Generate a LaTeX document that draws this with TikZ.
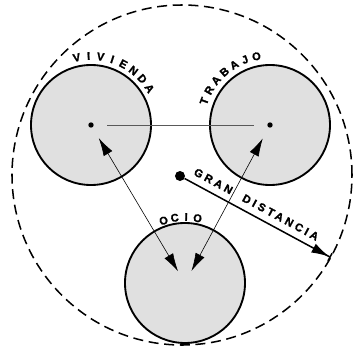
\documentclass[tikz,border=0pt]{standalone}
\usepackage{fontspec}
\setsansfont{Liberation Sans}[BoldFeatures={FakeBold=1.5}]
\usetikzlibrary{arrows.meta}

\begin{document}
\begin{tikzpicture}[
  x=0.03cm, y=0.03cm,
  font=\sffamily\bfseries\fontsize{9.5}{11}\selectfont,
  zone/.style={circle, draw, line width=1.6pt, fill=black!12, minimum size=3.6cm, inner sep=0pt},
  ring/.style={circle, draw, dash pattern=on 3mm off 1.7mm, line width=1.3pt, minimum size=10.2cm, inner sep=0pt},
  dot/.style={circle, fill, inner sep=0pt, minimum size=1.6mm},
  hub/.style={circle, fill, inner sep=0pt, minimum size=3mm},
  letter/.style={inner sep=0pt},
  word/.style={sloped, above=2mm, inner sep=0pt, font=\sffamily\bfseries\fontsize{9.5}{11}\selectfont\addfontfeature{LetterSpace=28}},
  link/.style={{Latex[length=5.4mm, width=3mm]}-{Latex[length=5.4mm, width=3mm]}, line width=0.5pt},
  gran/.style={-{Latex[length=5.4mm, width=3mm] Bar[width=2.6mm]}, line width=1.3pt}
]
\useasboundingbox (0,0) rectangle (353,352);
\node[ring] (out) at (182,177) {};
\node[zone] (viv) at (91,227) {};
\node[zone] (trab) at (270,227) {};
\node[zone] (ocio) at (185,69) {};
\node[dot] (vivc) at (viv.center) {};
\node[dot] (trabc) at (trab.center) {};
\node[hub] (hub) at (180,176) {};
\coordinate (gend) at ([shift={(-29:170)}]out.center);
% curved labels
\foreach \l [count=\i] in {V,I,V,I,E,N,D,A} {
  \pgfmathsetmacro\a{102-(\i-1)*10}
  \node[letter, rotate=\a-90] (v\i) at ([shift={(\a:69)}]viv.center) {\l};
}
\foreach \l [count=\i] in {T,R,A,B,A,J,O} {
  \pgfmathsetmacro\a{160-(\i-1)*9.8}
  \node[letter, rotate=\a-90] (t\i) at ([shift={(\a:70)}]trab.center) {\l};
}
\foreach \l [count=\i] in {O,C,I,O} {
  \pgfmathsetmacro\a{109-(\i-1)*10}
  \node[letter, rotate=\a-90] (o\i) at ([shift={(\a:66)}]ocio.center) {\l};
}
% connections
\draw[black!65, line width=0.6pt, shorten <=4mm, shorten >=4mm] (vivc) -- (trabc);
\draw[link, shorten <=3.7mm, shorten >=4.1mm] (vivc) -- (ocio.center);
\draw[link, shorten <=3.7mm, shorten >=4.1mm] (trabc) -- (ocio.center);
\draw[gran] (hub) -- (gend)
  node[word, pos=0.16] (gr) {GRAN}
  node[word, pos=0.62] (dist) {DISTANCIA};
\end{tikzpicture}
\end{document}
